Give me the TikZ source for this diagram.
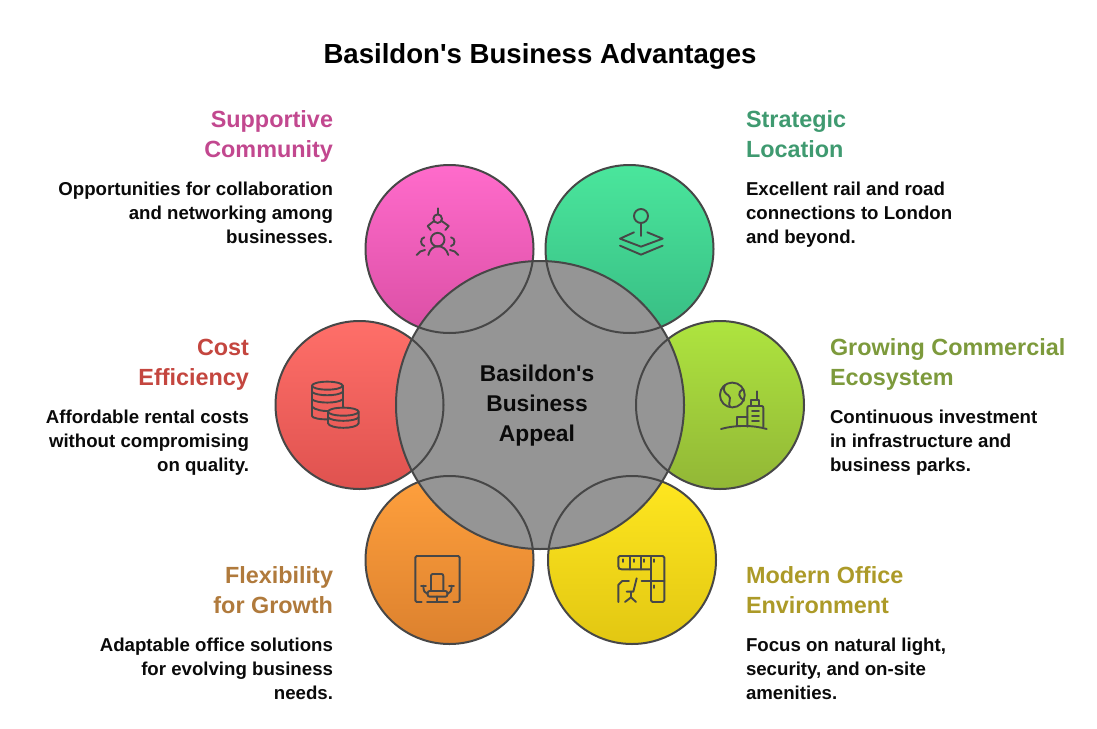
\documentclass[tikz,border=0pt]{standalone}
\usepackage{fontspec}
\newfontfamily\robo{Liberation Sans Bold}
\definecolor{ringc}{HTML}{474747}
\definecolor{hubc}{HTML}{959595}
\definecolor{inkc}{HTML}{0A0A0A}
\definecolor{pinkh}{HTML}{C2488F}
\definecolor{greenh}{HTML}{3F9A70}
\definecolor{redh}{HTML}{C4463F}
\definecolor{limeh}{HTML}{7D9A3C}
\definecolor{orangeh}{HTML}{B07A3C}
\definecolor{yellowh}{HTML}{AC9A28}
\definecolor{pinkt}{HTML}{FF6BCB}\definecolor{pinkb}{HTML}{DB4FA5}
\definecolor{greent}{HTML}{4AE69C}\definecolor{greenb}{HTML}{38BD84}
\definecolor{redt}{HTML}{FF6F69}\definecolor{redb}{HTML}{DF524F}
\definecolor{limet}{HTML}{AEE43F}\definecolor{limeb}{HTML}{92B736}
\definecolor{oranget}{HTML}{FFA03D}\definecolor{orangeb}{HTML}{DC812E}
\definecolor{yellowt}{HTML}{FFE720}\definecolor{yellowb}{HTML}{E2C712}
\tikzset{
  petal/.style n args={2}{circle,minimum size=168pt,inner sep=0pt,outer sep=0pt,top color=#1,bottom color=#2},
  ring/.style={draw=ringc,line width=2pt},
  hub/.style={circle,minimum size=288pt,inner sep=0pt,outer sep=0pt,fill=hubc},
  icn/.style={draw=ringc,line width=1.9pt,line cap=round,line join=round},
  zoomed/.style={x=0.3333pt,y=-0.3333pt},
  headR/.style={inner sep=0pt,outer sep=0pt,anchor=north east,align=right,font=\robo\fontsize{23.4}{30}\selectfont},
  headL/.style={inner sep=0pt,outer sep=0pt,anchor=north west,align=left,font=\robo\fontsize{23.4}{30}\selectfont},
  bodyR/.style={inner sep=0pt,outer sep=0pt,anchor=north east,align=right,text=inkc,font=\robo\fontsize{18.65}{24}\selectfont},
  bodyL/.style={inner sep=0pt,outer sep=0pt,anchor=north west,align=left,text=inkc,font=\robo\fontsize{18.65}{24}\selectfont},
}
\newcommand{\hs}{\rule{0pt}{20pt}}
\newcommand{\bs}{\rule{0pt}{16pt}}
\begin{document}
\begin{tikzpicture}[x=1pt,y=-1pt]
\useasboundingbox (0,0) rectangle (1097,728);
% petals
\node[petal={pinkt}{pinkb}] (pink) at (449.5,249) {};
\node[petal={greent}{greenb}] (green) at (629.5,249) {};
\node[petal={redt}{redb}] (red) at (359.5,405) {};
\node[petal={limet}{limeb}] (lime) at (720,405) {};
\node[petal={oranget}{orangeb}] (orange) at (449.5,560) {};
\node[petal={yellowt}{yellowb}] (yellow) at (632,560) {};
% hub
\node[hub] (hubn) at (540,405) {};
\foreach \n in {pink,green,red,lime,orange,yellow}
  \draw[ring] (\n.center) circle[radius=84pt];
\draw[ring] (hubn.center) circle[radius=144pt];
\node[inner sep=0pt,align=center,text=inkc,font=\robo\fontsize{22.8}{30}\selectfont] (hubt) at (537,406) {Basildon's\\Business\\Appeal};
% title
\node[inner sep=0pt,font=\robo\fontsize{27.6}{32}\selectfont,text=black,anchor=base] (title) at (540,63) {Basildon's Business Advantages};
% labels
\node[headR,text=pinkh] (h1) at (333,107.5) {\hs Supportive\\Community};
\node[bodyR] (b1) at (333,179) {\bs Opportunities for collaboration\\and networking among\\businesses.};
\node[headL,text=greenh] (h2) at (746,107.5) {\hs Strategic\\Location};
\node[bodyL] (b2) at (746,179) {\bs Excellent rail and road\\connections to London\\and beyond.};
\node[headR,text=redh] (h3) at (249,335.5) {\hs Cost\\Efficiency};
\node[bodyR] (b3) at (249,407) {\bs Affordable rental costs\\without compromising\\on quality.};
\node[headL,text=limeh] (h4) at (830,335.5) {\hs Growing Commercial\\Ecosystem};
\node[bodyL] (b4) at (830,407) {\bs Continuous investment\\in infrastructure and\\business parks.};
\node[headR,text=orangeh] (h5) at (333,563.5) {\hs Flexibility\\for Growth};
\node[bodyR] (b5) at (333,635) {\bs Adaptable office solutions\\for evolving business\\needs.};
\node[headL,text=yellowh] (h6) at (746,563.5) {\hs Modern Office\\Environment};
\node[bodyL] (b6) at (746,635) {\bs Focus on natural light,\\security, and on-site\\amenities.};
% icon: community
\begin{scope}[shift={(360,160)},zoomed]
\draw[icn] (233,145)--(233,163);
\draw[icn] (233,176) circle[radius=4.3pt];
\draw[icn] (222,183)--(203,198)--(212,210);
\draw[icn] (245,183)--(266,198)--(256,210);
\draw[icn] (233,239) circle[radius=6.8pt];
\draw[icn] (205,285) .. controls (212,250) and (256,250) .. (265,285);
\draw[icn] (193,232) .. controls (180,234) and (180,256) .. (193,258);
\draw[icn] (273,232) .. controls (287,234) and (287,256) .. (273,258);
\draw[icn] (170,285) .. controls (175,276) and (185,271) .. (195,270);
\draw[icn] (295,285) .. controls (290,276) and (280,271) .. (270,270);
\end{scope}
% icon: location
\begin{scope}[shift={(540,160)},zoomed]
\draw[icn] (303,168) circle[radius=7pt];
\draw[icn] (303,189)--(303,228);
\draw[icn] (282,217)--(240,236)--(303,260)--(368,236)--(322,217);
\draw[icn] (240,257)--(303,284)--(368,257);
\end{scope}
% icon: coins
\begin{scope}[shift={(270,320)},zoomed]
\draw[icn] (172,197) ellipse[x radius=15.3pt,y radius=4pt];
\draw[icn] (126,197)--(126,288) .. controls (126,294) and (150,299) .. (175,298);
\draw[icn] (218,197)--(218,262);
\draw[icn] (126,216) .. controls (140,229) and (204,229) .. (218,216);
\draw[icn] (126,238) .. controls (140,251) and (204,251) .. (218,238);
\draw[icn] (126,260) .. controls (135,270) and (160,274) .. (175,273);
\draw[icn] (220,275) ellipse[x radius=15.3pt,y radius=4pt];
\draw[icn] (174,275)--(174,310) .. controls (180,328) and (260,328) .. (266,310)--(266,275);
\draw[icn] (174,292) .. controls (185,306) and (255,306) .. (266,292);
\end{scope}
% icon: city
\begin{scope}[shift={(640,320)},zoomed]
\draw[icn] (277,225) circle[radius=12.4pt];
\draw[icn] (255,195) .. controls (245,212) and (258,222) .. (265,226) .. controls (277,234) and (262,250) .. (270,261);
\draw[icn] (310,208) .. controls (290,216) and (297,232) .. (312,242);
\draw[icn] (322,320)--(322,264) .. controls (322,260) and (324,258) .. (327,258)--(365,258) .. controls (368,258) and (370,260) .. (370,264)--(370,320);
\draw[icn] (333,258)--(333,240)--(358,240)--(358,258);
\draw[icn] (352,214)--(352,240);
\draw[icn] (336,272)--(357,272);
\draw[icn] (336,288)--(357,288);
\draw[icn] (336,303)--(357,303);
\draw[icn] (292,318)--(292,290)--(322,290);
\draw[icn] (243,327) .. controls (285,315) and (340,315) .. (380,327);
\end{scope}
% icon: chair
\begin{scope}[shift={(360,480)},zoomed]
\draw[icn] (185,366)--(170,366) .. controls (168,366) and (166,364) .. (166,362)--(166,232) .. controls (166,230) and (168,228) .. (170,228)--(295,228) .. controls (297,228) and (299,230) .. (299,232)--(299,362) .. controls (299,364) and (297,366) .. (295,366)--(280,366);
\draw[icn] (201,366)--(263,366);
\draw[icn] (232,350)--(232,366);
\draw[icn] (213,333)--(213,288) .. controls (213,284) and (215,282) .. (219,282)--(244,282) .. controls (248,282) and (250,284) .. (250,288)--(250,333);
\draw[icn,rounded corners=2pt] (203,333) rectangle (262,350);
\draw[icn] (183,317)--(198,317);
\draw[icn] (190,317) .. controls (190,332) and (194,340) .. (203,342);
\draw[icn] (267,317)--(282,317);
\draw[icn] (275,317) .. controls (275,332) and (271,340) .. (262,342);
\end{scope}
% icon: office
\begin{scope}[shift={(545,480)},zoomed]
\draw[icn,rounded corners=1.5pt] (318,268)--(225,268)--(220,264)--(220,228)--(358,228)--(358,366)--(318,366)--(318,268);
\draw[icn] (256,228)--(256,268);
\draw[icn] (288,228)--(288,268);
\draw[icn] (318,228)--(318,268);
\draw[icn] (290,303)--(358,303);
\foreach \hx/\hy in {233/242,268/242,298/242,328/242,328/320}
  \draw[icn] (\hx,\hy-4)--(\hx,\hy+4);
\draw[icn] (220,366)--(220,315)--(232,303)--(252,303);
\draw[icn] (275,295)--(265,335)--(245,335);
\draw[icn] (258,335)--(258,352);
\draw[icn] (240,366)--(258,352)--(273,366);
\end{scope}
\end{tikzpicture}
\end{document}
